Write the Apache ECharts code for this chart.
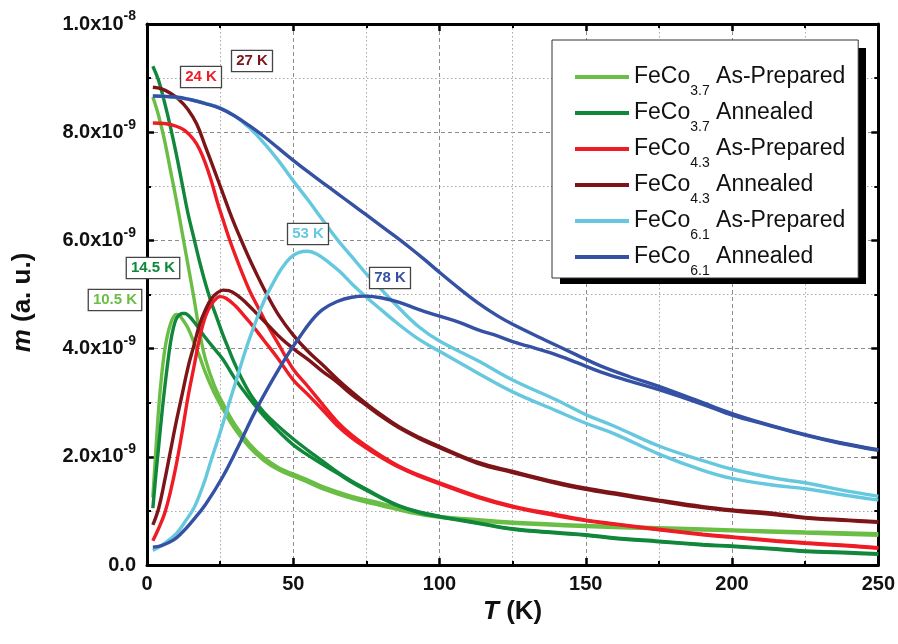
<!DOCTYPE html>
<html><head><meta charset="utf-8">
<script src="https://cdn.jsdelivr.net/npm/echarts@6/dist/echarts.min.js"></script>
<style>html,body{margin:0;padding:0;background:#fff}#c{width:898px;height:644px}</style>
</head><body><div id="c"></div><script>
// ---- data (m in units of 1e-9 a.u., T in K) ----
const SCALE = 1e-9;
const SERIES_NAMES = ['FeCo3.7 As-Prepared','FeCo3.7 Annealed','FeCo4.3 As-Prepared','FeCo4.3 Annealed','FeCo6.1 As-Prepared','FeCo6.1 Annealed'];

const LG_FC_T = [2,4,6,8,10,12,14,16,18,20,23,26,30,35,40,45,50,55,60,70,80,90,100,110,125,150,175,200,225,250];
const LG_FC_M = [8.65,8.3,7.85,7.3,6.75,6.15,5.55,4.95,4.3,3.8,3.32,2.98,2.6,2.24,1.98,1.8,1.68,1.57,1.45,1.27,1.14,1.0,0.9,0.85,0.79,0.73,0.69,0.65,0.61,0.58];
const LG_ZFC_T = [2,3,4,5,6,7,8,9,10,11,12,14,16,18,20,23,26,30,35,40,45,50,55,60,70,80,90,100,110,125,150,175,200,225,250];
const LG_ZFC_M = [1.25,2.1,2.9,3.5,3.95,4.25,4.45,4.58,4.63,4.62,4.55,4.38,4.12,3.85,3.55,3.18,2.88,2.52,2.18,1.93,1.76,1.64,1.53,1.41,1.23,1.1,0.97,0.88,0.83,0.77,0.71,0.67,0.63,0.59,0.55];

const DG_FC_T = [2,4,6,8,10,12,14,16,18,20,22,24,26,28,30,33,36,40,45,50,55,60,65,70,75,80,86,93,100,113,125,140,150,160,175,190,200,215,225,240,250];
const DG_FC_M = [9.22,8.95,8.55,8.1,7.6,7.05,6.5,6.05,5.6,5.2,4.85,4.55,4.25,3.98,3.72,3.38,3.1,2.82,2.56,2.33,2.12,1.92,1.72,1.55,1.4,1.25,1.1,0.98,0.9,0.78,0.67,0.6,0.56,0.5,0.44,0.38,0.35,0.3,0.26,0.23,0.21];
const DG_ZFC_T = [2,3,4,5,6,7,8,9,10,11,12,13,14,16,18,20,23,26,30,34,40,45,50,55,60,65,70,75,80,86,93,100,113,125,140,150,160,175,190,200,215,225,240,250];
const DG_ZFC_M = [1.05,1.65,2.2,2.75,3.25,3.7,4.1,4.38,4.55,4.62,4.65,4.65,4.62,4.5,4.35,4.2,4.0,3.8,3.45,3.15,2.75,2.47,2.22,2.03,1.86,1.7,1.53,1.38,1.24,1.09,0.97,0.89,0.77,0.66,0.59,0.55,0.49,0.43,0.37,0.34,0.29,0.25,0.22,0.2];

const R_FC_T = [2,6,10,13,16,18,20,22,24,26,28,30,32,35,38,41,45,50,55,60,65,70,75,80,86,93,100,113,125,140,150,160,175,190,200,215,225,240,250];
const R_FC_M = [8.17,8.16,8.11,8.03,7.86,7.68,7.42,7.1,6.72,6.38,6.05,5.75,5.47,5.08,4.76,4.45,4.08,3.62,3.3,2.97,2.65,2.4,2.2,2.02,1.83,1.66,1.52,1.27,1.09,0.93,0.83,0.76,0.66,0.57,0.52,0.45,0.41,0.36,0.32];
const R_ZFC_T = [2,4,6,8,10,12,14,16,18,20,22,24,25,27,30,33,36,40,45,50,55,60,65,70,75,80,86,93,100,113,125,140,150,160,175,190,200,215,225,240,250];
const R_ZFC_M = [0.45,0.68,0.95,1.35,1.85,2.45,3.1,3.65,4.2,4.6,4.82,4.94,4.96,4.93,4.8,4.62,4.43,4.15,3.8,3.42,3.15,2.87,2.58,2.35,2.16,1.99,1.81,1.64,1.5,1.25,1.07,0.91,0.82,0.75,0.65,0.56,0.51,0.44,0.4,0.35,0.31];

const DR_FC_T = [2,5,8,11,14,17,20,23,26,29,32,35,38,41,45,50,55,60,65,70,75,80,86,93,100,113,125,140,150,160,175,190,200,215,225,240,250];
const DR_FC_M = [8.83,8.8,8.72,8.6,8.42,8.15,7.73,7.3,6.86,6.42,6.03,5.66,5.32,5.0,4.62,4.25,3.95,3.7,3.44,3.2,2.98,2.78,2.56,2.36,2.19,1.9,1.73,1.53,1.42,1.33,1.2,1.08,1.02,0.95,0.88,0.83,0.8];
const DR_ZFC_T = [2,4,6,8,10,12,14,16,18,20,22,24,26,28,31,34,38,42,46,50,55,60,65,70,75,80,86,93,100,113,125,140,150,160,175,190,200,215,225,240,250];
const DR_ZFC_M = [0.74,1.05,1.55,2.1,2.65,3.15,3.65,4.05,4.45,4.72,4.92,5.03,5.08,5.07,4.98,4.84,4.62,4.4,4.18,4.0,3.8,3.58,3.38,3.15,2.95,2.75,2.54,2.34,2.17,1.88,1.71,1.51,1.4,1.31,1.18,1.06,1.0,0.93,0.87,0.82,0.79];

const C_FC_T = [2,6,10,15,20,25,30,35,40,45,50,55,60,65,70,75,80,86,93,100,113,125,140,150,160,175,190,200,215,225,240,250];
const C_FC_M = [8.67,8.66,8.64,8.6,8.53,8.45,8.3,8.08,7.8,7.47,7.1,6.75,6.38,6.02,5.7,5.38,5.1,4.76,4.4,4.14,3.78,3.42,3.05,2.78,2.56,2.2,1.93,1.77,1.6,1.52,1.36,1.27];
const C_ZFC_T = [2,6,10,13,16,18,20,22,25,28,31,34,37,40,43,46,49,52,55,58,62,66,70,75,80,86,93,100,113,125,140,150,160,175,190,200,215,225,240,250];
const C_ZFC_M = [0.27,0.4,0.58,0.8,1.05,1.3,1.6,1.95,2.45,2.98,3.5,4.02,4.47,4.88,5.2,5.48,5.68,5.78,5.8,5.75,5.6,5.42,5.2,4.95,4.72,4.45,4.17,3.95,3.55,3.2,2.85,2.62,2.42,2.05,1.75,1.6,1.47,1.41,1.28,1.2];

const B_FC_T = [2,10,15,20,25,30,35,40,45,50,55,60,65,70,75,80,85,90,95,100,107,113,120,125,136,147,155,165,175,190,200,212,225,237,250];
const B_FC_M = [8.67,8.65,8.6,8.53,8.44,8.3,8.12,7.92,7.7,7.48,7.27,7.07,6.87,6.67,6.47,6.27,6.07,5.86,5.64,5.41,5.1,4.85,4.6,4.45,4.16,3.88,3.68,3.48,3.3,3.0,2.8,2.6,2.41,2.26,2.13];
const B_ZFC_T = [2,5,9,12,15,20,26,32,37,43,48,52,56,60,65,70,75,80,86,93,100,107,113,120,125,130,138,147,155,165,175,190,200,212,225,237,250];
const B_ZFC_M = [0.33,0.36,0.46,0.6,0.78,1.12,1.64,2.28,2.84,3.43,3.88,4.2,4.5,4.72,4.87,4.95,4.97,4.94,4.86,4.72,4.6,4.48,4.35,4.23,4.13,4.05,3.92,3.74,3.57,3.4,3.24,2.97,2.77,2.59,2.4,2.25,2.12];

const PEAK_LABELS = ['10.5 K','14.5 K','24 K','27 K','53 K','78 K'];

// ---- styling ----
const COLORS = ['#6abd45','#11873c','#ee1c25','#7d1518','#66c8de','#3551a4'];
const CURVES = [
  [[LG_FC_T,LG_FC_M],[LG_ZFC_T,LG_ZFC_M]],
  [[DG_FC_T,DG_FC_M],[DG_ZFC_T,DG_ZFC_M]],
  [[R_FC_T,R_FC_M],[R_ZFC_T,R_ZFC_M]],
  [[DR_FC_T,DR_FC_M],[DR_ZFC_T,DR_ZFC_M]],
  [[C_FC_T,C_FC_M],[C_ZFC_T,C_ZFC_M]],
  [[B_FC_T,B_FC_M],[B_ZFC_T,B_ZFC_M]]
];
// annotation box centres (pixels)
const LABEL_POS = [[115,300],[153,268],[201,77],[252,61],[308,234],[390,278]];

const FONT = '"Liberation Sans", Arial, sans-serif';
const series = [];
CURVES.forEach((pair, i) => {
  pair.forEach(([T, M]) => {
    series.push({
      name: SERIES_NAMES[i], type: 'line', symbol: 'none', smooth: 0.4,
      data: T.map((t, k) => [t, M[k] * SCALE]),
      lineStyle: {width: 3.4, color: COLORS[i]}, itemStyle: {color: COLORS[i]},
      z: 2
    });
  });
});

function yFmt(v) {
  if (v === 0) return '{b|0.0}';
  const e = Math.floor(Math.log10(v) + 1e-6);
  const mnt = v / Math.pow(10, e);
  return '{b|' + mnt.toFixed(1) + 'x10}{sup|' + e + '}';
}

const tick = {show: true, inside: true, length: 7, lineStyle: {width: 2.5, color: '#000'}};
const minorTick = {show: true, splitNumber: 2, length: 4, lineStyle: {width: 2, color: '#000'}};
const axisLine = {show: true, onZero: false, lineStyle: {width: 3, color: '#000'}};
const split = {show: true, lineStyle: {color: '#8c8c8c', type: [4, 3], width: 1}};
const minorSplit = {show: true, lineStyle: {color: '#a8a8a8', type: [1.5, 2.5], width: 1}};
const titleRich = {i: {fontSize: 26, fontWeight: 'bold', fontStyle: 'italic', color: '#111', fontFamily: FONT}};

const chart = echarts.init(document.getElementById('c'), null, {renderer: 'canvas'});
chart.setOption({
  animation: false,
  backgroundColor: '#fff',
  grid: {left: 147, right: 17, top: 24, bottom: 79},
  xAxis: [{
    type: 'value', min: 0, max: 250, interval: 50, position: 'bottom',
    axisLine, axisTick: tick, minorTick, splitLine: split, minorSplitLine: minorSplit,
    axisLabel: {fontSize: 20, fontWeight: 'bold', color: '#111', fontFamily: FONT, margin: 9},
    name: '{i|T} (K)', nameLocation: 'middle', nameGap: 26,
    nameTextStyle: {fontSize: 26, fontWeight: 'bold', color: '#111', fontFamily: FONT, rich: titleRich}
  }, {
    type: 'value', min: 0, max: 250, interval: 50, position: 'top',
    axisLine, axisTick: tick, minorTick, splitLine: {show: false}, axisLabel: {show: false}
  }],
  yAxis: [{
    type: 'value', min: 0, max: 1e-8, interval: 2e-9, position: 'left',
    axisLine, axisTick: tick, minorTick, splitLine: split, minorSplitLine: minorSplit,
    axisLabel: {formatter: yFmt, margin: 11, color: '#111',
      rich: {
        b: {fontSize: 20, fontWeight: 'bold', color: '#111', fontFamily: FONT},
        sup: {fontSize: 14, fontWeight: 'bold', color: '#111', fontFamily: FONT, padding: [0, 0, 15, 0], lineHeight: 26}
      }},
    name: '{i|m} (a. u.)', nameLocation: 'middle', nameGap: 111, nameRotate: 90,
    nameTextStyle: {fontSize: 26, fontWeight: 'bold', color: '#111', fontFamily: FONT, rich: titleRich, padding: [0, 16, 0, 0]}
  }, {
    type: 'value', min: 0, max: 1e-8, interval: 2e-9, position: 'right',
    axisLine, axisTick: tick, minorTick, splitLine: {show: false}, axisLabel: {show: false}
  }],
  legend: {
    data: SERIES_NAMES, orient: 'vertical', left: 552, top: 40, z: 10,
    padding: [16, 13, 0, 23], itemGap: -6, itemWidth: 54, itemHeight: 4, icon: 'rect',
    backgroundColor: '#fff', borderColor: '#333', borderWidth: 1, borderRadius: 0,
    formatter: n => n.replace(/^FeCo([\d.]+) /, 'FeCo{sub|$1} '),
    textStyle: {fontSize: 23, color: '#111', fontFamily: FONT, lineHeight: 26,
      rich: {sub: {fontSize: 14, color: '#111', fontFamily: FONT, padding: [28, 0, 0, 0], lineHeight: 26}}}
  },
  graphic: [{
    type: 'rect', shape: {x: 560, y: 48, width: 306, height: 236}, style: {fill: '#000'}, z: 9, silent: true
  }].concat(PEAK_LABELS.map((t, i) => ({
    type: 'text', x: LABEL_POS[i][0], y: LABEL_POS[i][1], z: 100,
    style: {text: t, fill: COLORS[i], font: 'bold 15px ' + FONT, align: 'center', verticalAlign: 'middle',
      backgroundColor: '#fff', borderColor: '#444', borderWidth: 1.3, padding: [3, 4, 2, 4]}
  }))),
  series
});
</script></body></html>
